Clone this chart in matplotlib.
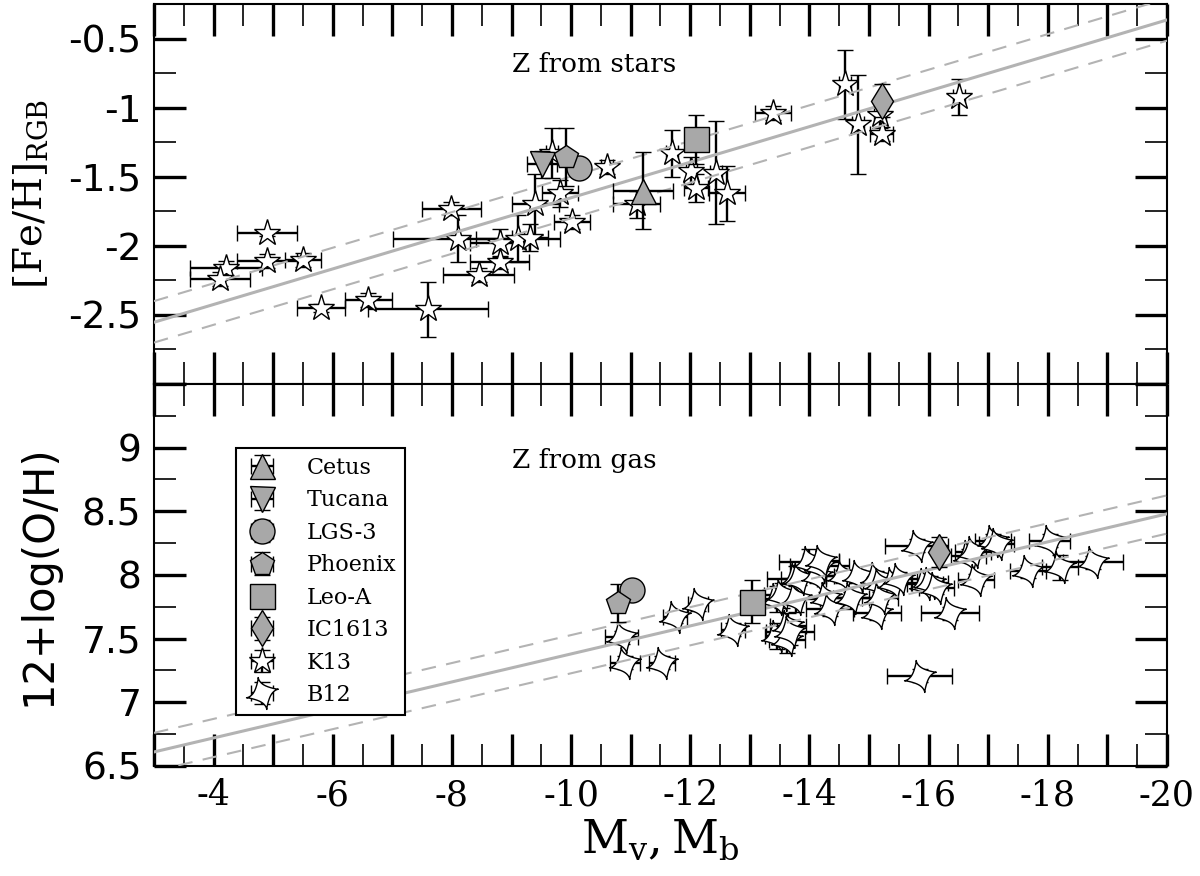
import numpy as np
import matplotlib.pyplot as plt
from matplotlib.path import Path
from matplotlib.ticker import MultipleLocator, FuncFormatter

plt.rcParams['font.family'] = ['DejaVu Serif']
plt.rcParams['mathtext.fontset'] = 'dejavuserif'

# ---- data ----
# K13 dwarfs, metallicity from RGB stars
k13_mv = [-4.90, -4.21, -4.11, -4.90, -5.50, -5.80, -6.60, -7.60, -7.99, -8.11,
          -8.45, -8.80, -8.80, -9.11, -9.31, -9.40, -9.81, -10.01, -10.60, -11.10,
          -11.70, -12.02, -12.10, -12.43, -12.61, -13.39, -14.60, -14.81, -15.18,
          -15.21, -16.51, -9.68]
k13_fe = [-1.91, -2.16, -2.24, -2.11, -2.10, -2.45, -2.39, -2.46, -1.73, -1.95,
          -2.21, -1.98, -2.12, -1.95, -1.94, -1.70, -1.62, -1.83, -1.43, -1.70,
          -1.33, -1.46, -1.58, -1.47, -1.62, -1.04, -0.83, -1.12, -1.05, -1.19,
          -0.92, -1.33]
k13_mv_err = [0.5, 0.6, 0.5, 0.5, 0.3, 0.4, 0.4, 1.0, 0.5, 1.1, 0.6, 0.5, 0.5,
              0.7, 0.3, 0.4, 0.3, 0.3, 0.1, 0.4, 0.1, 0.1, 0.2, 0.1, 0.3, 0.3,
              0.1, 0.1, 0.1, 0.2, 0.1, 0.1]
k13_fe_err = [0.02, 0.05, 0.05, 0.05, 0.05, 0.03, 0.05, 0.2, 0.05, 0.17, 0.05,
              0.1, 0.05, 0.17, 0.1, 0.22, 0.1, 0.05, 0.05, 0.1, 0.17, 0.1, 0.1,
              0.37, 0.2, 0.05, 0.25, 0.36, 0.1, 0.05, 0.13, 0.18]

# B12 dwarfs, oxygen abundance from gas
b12_mb = [-10.85, -10.90, -11.52, -11.74, -12.13, -12.72, -13.45, -13.45, -13.54,
          -13.62, -13.64, -13.67, -13.78, -13.78, -13.83, -13.99, -14.12, -14.17,
          -14.19, -14.28, -14.34, -14.57, -14.70, -14.82, -15.12, -15.13, -15.18,
          -15.18, -15.40, -15.51, -15.80, -15.85, -15.94, -16.02, -16.13, -16.36,
          -16.67, -16.75, -16.80, -17.08, -17.14, -17.67, -18.03, -18.20, -18.76]
b12_oh = [7.51, 7.31, 7.31, 7.67, 7.77, 7.57, 7.81, 7.52, 7.84, 7.49, 7.60, 7.55,
          7.97, 7.81, 7.97, 8.10, 7.99, 8.07, 8.11, 7.82, 7.73, 7.99, 7.82, 7.99,
          7.98, 7.70, 7.93, 7.82, 7.94, 7.97, 8.23, 7.21, 7.93, 7.94, 7.90, 7.70,
          8.15, 8.18, 7.96, 8.27, 8.24, 8.03, 8.27, 8.06, 8.10]
b12_mb_err = [0.28, 0.25, 0.22, 0.2, 0.17, 0.2, 0.3, 0.2, 0.3, 0.3, 0.3, 0.4,
              0.5, 0.4, 0.3, 0.5, 0.3, 0.5, 0.3, 0.4, 0.4, 0.3, 0.3, 0.3, 0.3,
              0.4, 0.3, 0.3, 0.3, 0.3, 0.53, 0.55, 0.3, 0.3, 0.3, 0.49, 0.3, 0.3,
              0.3, 0.3, 0.3, 0.3, 0.34, 0.3, 0.5]
b12_oh_err = [0.05, 0.05, 0.05, 0.05, 0.05, 0.05, 0.1, 0.1, 0.1, 0.1, 0.1, 0.1,
              0.1, 0.1, 0.05, 0.1, 0.05, 0.05, 0.05, 0.05, 0.05, 0.05, 0.05, 0.05,
              0.05, 0.05, 0.05, 0.05, 0.05, 0.05, 0.05, 0.05, 0.05, 0.05, 0.05,
              0.05, 0.05, 0.05, 0.05, 0.05, 0.05, 0.05, 0.05, 0.1, 0.05]

# the six named galaxies: (Mv, [Fe/H], err_Mv, err_Fe) and (Mb, O/H, err_Mb, err_OH)
names = ['Cetus', 'Tucana', 'LGS-3', 'Phoenix', 'Leo-A', 'IC1613']
markers = ['^', 'v', 'o', 'p', 's', 'd']
named_mv = [-11.21, -9.51, -10.14, -9.91, -12.10, -15.21]
named_fe = [-1.60, -1.41, -1.435, -1.36, -1.23, -0.95]
named_mv_err = [0.5, 0.25, 0.05, 0.05, 0.05, 0.05]
named_fe_err = [0.28, 0.10, 0.05, 0.21, 0.18, 0.12]
gas_names = ['LGS-3', 'Phoenix', 'Leo-A', 'IC1613']
gas_mb = [-11.03, -10.79, -13.03, -16.18]
gas_oh = [7.88, 7.78, 7.79, 8.18]
gas_mb_err = [0.05, 0.05, 0.05, 0.05]
gas_oh_err = [0.05, 0.15, 0.17, 0.12]

# fit lines (end points at M = -3 and M = -20)
fit_m = [-3, -20]
fe_fit = [-2.553, -0.365]
fe_fit_up = [-2.40, -0.21]
fe_fit_lo = [-2.70, -0.515]
oh_fit = [6.61, 8.48]
oh_fit_up = [6.76, 8.625]
oh_fit_lo = [6.46, 8.325]

# ---- slightly twisted four-point star for B12 ----
t = np.linspace(0, 2 * np.pi, 160)
px = np.sign(np.cos(t)) * np.abs(np.cos(t)) ** 3.0
py = np.sign(np.sin(t)) * np.abs(np.sin(t)) ** 3.0
r = np.hypot(px, py)
ang = np.arctan2(py, px) + np.deg2rad(15) + np.deg2rad(12) * (1 - r)
star4 = Path(np.column_stack([r * np.cos(ang), r * np.sin(ang)]))

gray = '#a8a8a8'
linegray = '#b3b3b3'
ebkw = dict(ecolor='black', elinewidth=1.7, capsize=6, capthick=1.0,
            mec='black', mew=1.0, linestyle='none')

fig = plt.figure(figsize=(12, 8.76), dpi=100)
ax1 = fig.add_axes([0.1283, 0.5616, 0.8442, 0.4338])
ax2 = fig.add_axes([0.1283, 0.1256, 0.8442, 0.4361], sharex=ax1)

handles = {}

# top panel
h = ax1.errorbar(k13_mv, k13_fe, xerr=k13_mv_err, yerr=k13_fe_err, marker='*',
                 ms=20, mfc='white', zorder=2, **ebkw)
handles['K13'] = h
for lw, y, ls in [(2.2, fe_fit, '-'), (1.5, fe_fit_up, (0, (7, 5))),
                  (1.5, fe_fit_lo, (0, (7, 5)))]:
    ax1.plot(fit_m, y, color=linegray, lw=lw, ls=ls, zorder=3)
for i, n in enumerate(names):
    h = ax1.errorbar([named_mv[i]], [named_fe[i]], xerr=[named_mv_err[i]],
                     yerr=[named_fe_err[i]], marker=markers[i], ms=18,
                     mfc=gray, zorder=4, **ebkw)
    handles[n] = h

# bottom panel
h = ax2.errorbar(b12_mb, b12_oh, xerr=b12_mb_err, yerr=b12_oh_err, marker=star4,
                 ms=23, mfc='white', zorder=2, **ebkw)
handles['B12'] = h
for lw, y, ls in [(2.2, oh_fit, '-'), (1.5, oh_fit_up, (0, (7, 5))),
                  (1.5, oh_fit_lo, (0, (7, 5)))]:
    ax2.plot(fit_m, y, color=linegray, lw=lw, ls=ls, zorder=3)
for i, n in enumerate(gas_names):
    ax2.errorbar([gas_mb[i]], [gas_oh[i]], xerr=[gas_mb_err[i]],
                 yerr=[gas_oh_err[i]], marker=markers[names.index(n)], ms=18,
                 mfc=gray, zorder=4, **ebkw)

ax1.text(0.353, 0.84, 'Z from stars', transform=ax1.transAxes, fontsize=19,
         ha='left', va='center')
ax2.text(0.353, 0.80, 'Z from gas', transform=ax2.transAxes, fontsize=19,
         ha='left', va='center')

leg_order = names + ['K13', 'B12']
leg = ax2.legend([handles[n] for n in leg_order], leg_order, loc='upper left',
                 bbox_to_anchor=(0.0807, 0.832), borderaxespad=0, fontsize=16,
                 numpoints=1, fancybox=False, framealpha=1, edgecolor='black',
                 handlelength=1.6, handletextpad=1.2, borderpad=0.4,
                 labelspacing=0.47)
leg.get_frame().set_linewidth(1.5)

# axes cosmetics
ax1.set_xlim(-3, -20)
ax1.set_ylim(-3.0, -0.25)
ax2.set_ylim(6.5, 9.5)


def xfmt(v, pos):
    iv = int(round(v))
    return '%d' % iv if abs(v - iv) < 1e-6 and iv % 2 == 0 else ''


def yfmt_top(v, pos):
    return '%g' % v if -2.55 < v < -0.45 else ''


def yfmt_bot(v, pos):
    return '%g' % v if v < 9.25 else ''


for ax in (ax1, ax2):
    ax.xaxis.set_major_locator(MultipleLocator(1))
    ax.xaxis.set_minor_locator(MultipleLocator(0.5))
    ax.yaxis.set_major_locator(MultipleLocator(0.5))
    ax.yaxis.set_minor_locator(MultipleLocator(0.25))
    ax.tick_params(which='both', direction='in', top=True, right=True)
    ax.tick_params(which='major', length=23, width=2.4)
    ax.tick_params(which='minor', length=16, width=1.2)
    ax.tick_params(axis='y', pad=9, labelsize=27, labelfontfamily='DejaVu Sans')
    ax.tick_params(axis='x', pad=9, labelsize=25, labelfontfamily='DejaVu Serif')
    for s in ax.spines.values():
        s.set_linewidth(1.5)

ax1.yaxis.set_major_formatter(FuncFormatter(yfmt_top))
ax2.yaxis.set_major_formatter(FuncFormatter(yfmt_bot))
ax2.xaxis.set_major_formatter(FuncFormatter(xfmt))
ax1.tick_params(axis='x', labelbottom=False)

ax1.set_ylabel(r'$\mathrm{[Fe/H]_{RGB}}$', fontsize=28)
ax1.yaxis.set_label_coords(-0.103, 0.5)
ax2.set_ylabel('12+log(O/H)', fontsize=30, family='DejaVu Sans')
ax2.yaxis.set_label_coords(-0.093, 0.5)
ax2.set_xlabel(r'$\mathrm{M_v, M_b}$', fontsize=33)
ax2.xaxis.set_label_coords(0.5, -0.135)

fig.savefig('out.png', dpi=100)
